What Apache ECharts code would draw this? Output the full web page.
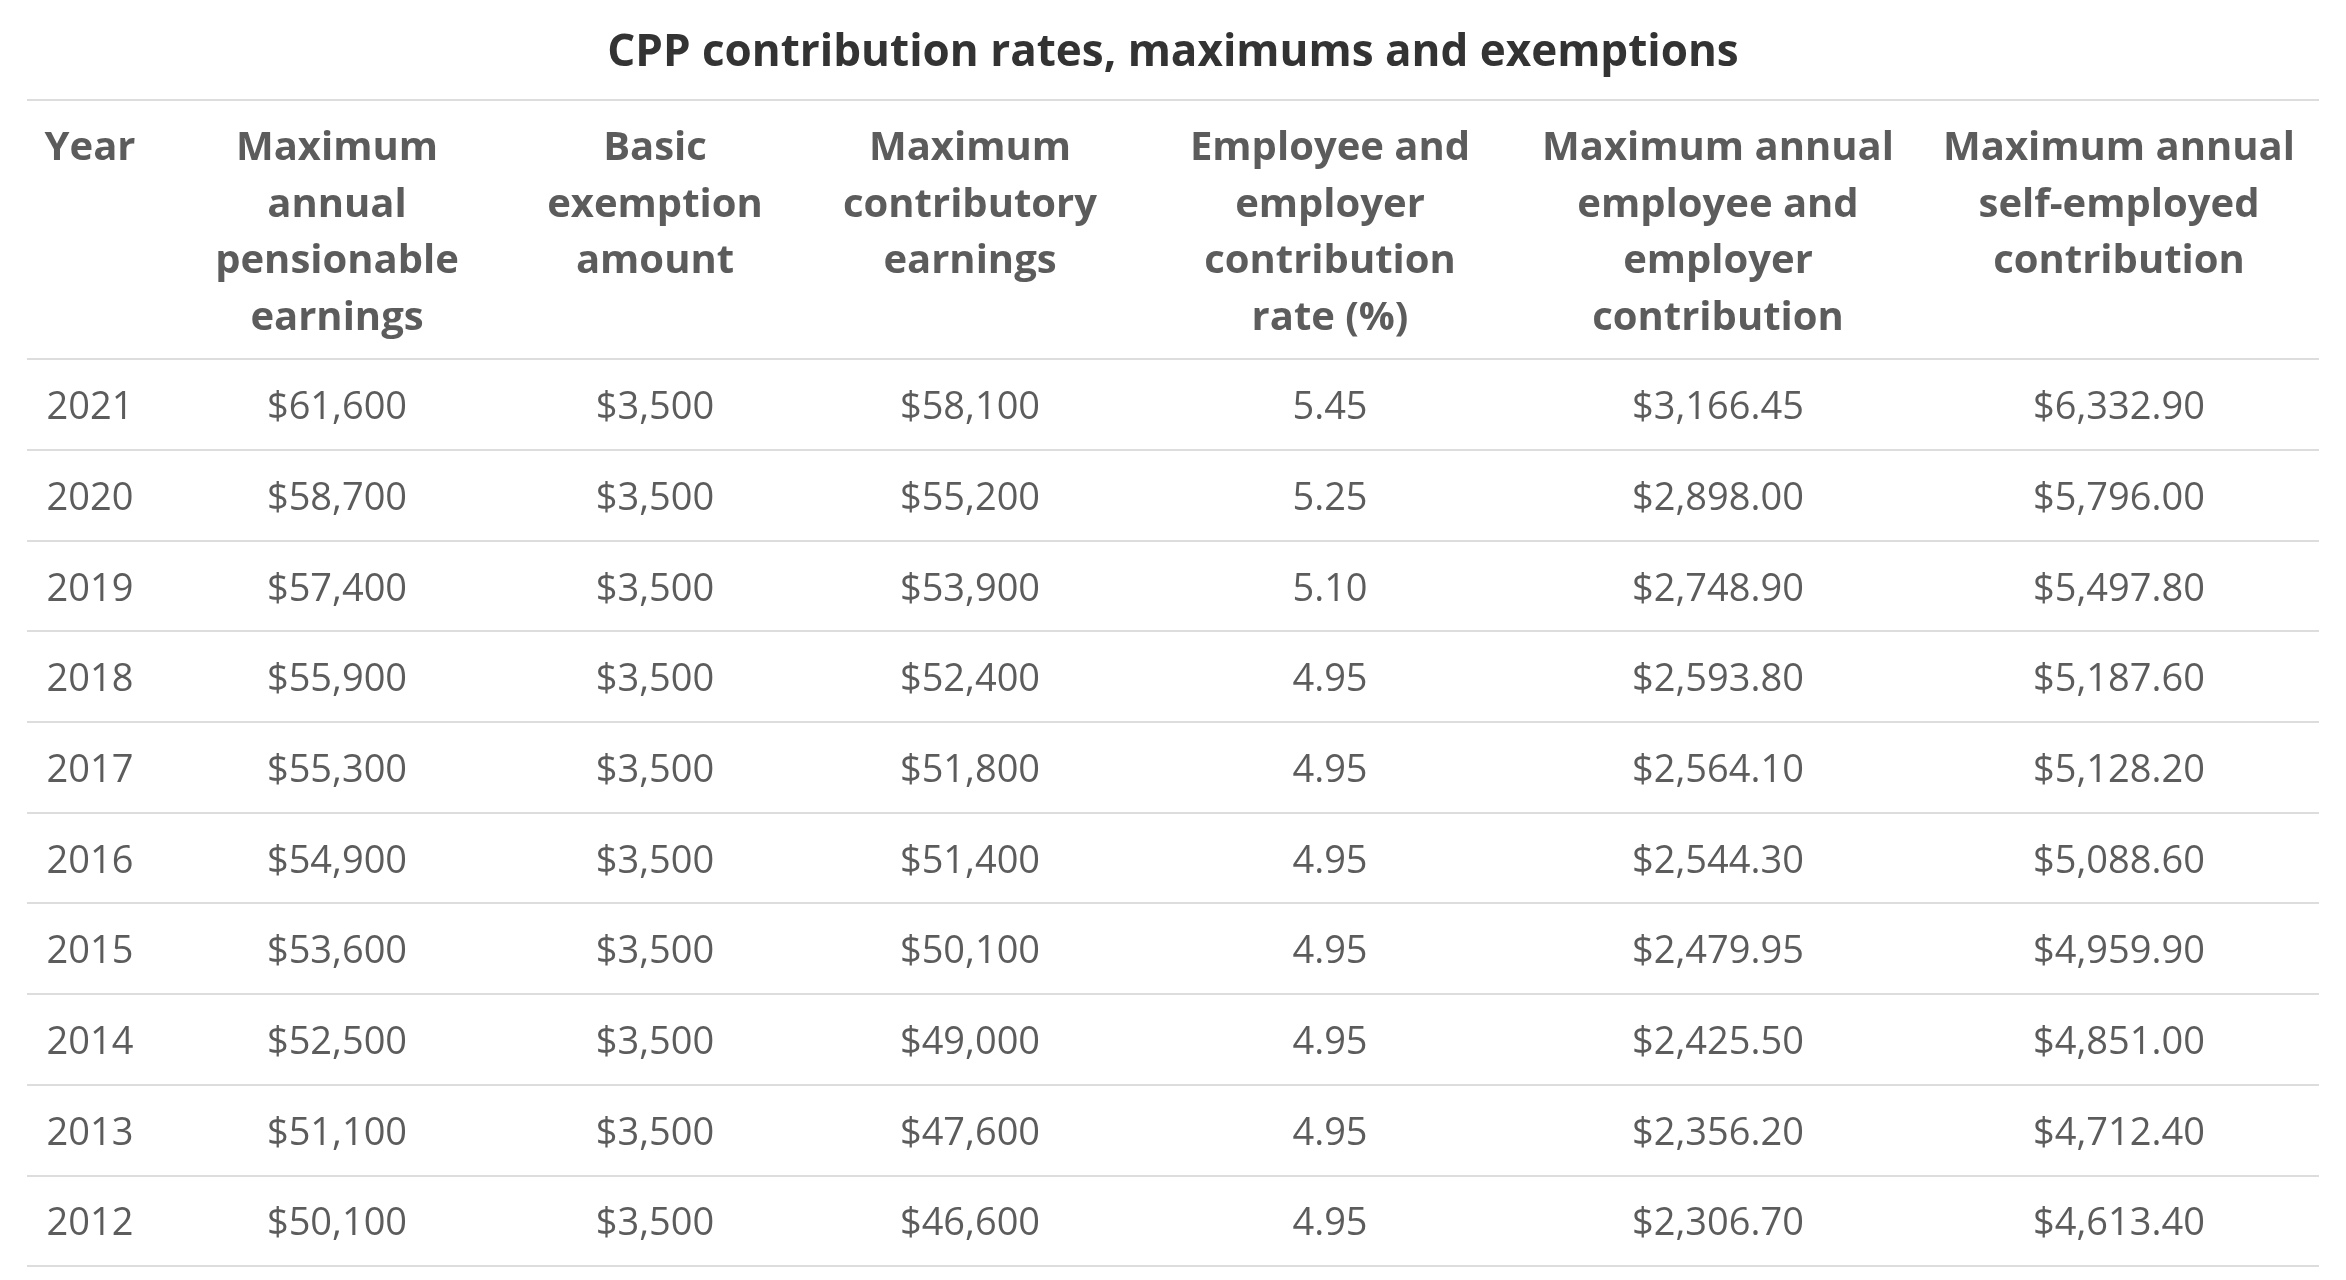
<!DOCTYPE html>
<html>
<head>
<meta charset="utf-8">
<script src="https://cdn.jsdelivr.net/npm/echarts@6/dist/echarts.min.js"></script>
<style>
html,body{margin:0;padding:0;background:#fff;}
#chart{width:2346px;height:1280px;}
</style>
</head>
<body>
<div id="chart"></div>
<script>
// ---- data ----
const titleText = 'CPP contribution rates, maximums and exemptions';
const headers = [
  'Year',
  'Maximum\nannual\npensionable\nearnings',
  'Basic\nexemption\namount',
  'Maximum\ncontributory\nearnings',
  'Employee and\nemployer\ncontribution\nrate (%)',
  'Maximum annual\nemployee and\nemployer\ncontribution',
  'Maximum annual\nself-employed\ncontribution'
];
const years = ['2021','2020','2019','2018','2017','2016','2015','2014','2013','2012'];
const maxPensionable = [61600, 58700, 57400, 55900, 55300, 54900, 53600, 52500, 51100, 50100];
const basicExemption = [3500, 3500, 3500, 3500, 3500, 3500, 3500, 3500, 3500, 3500];
const maxContributory = [58100, 55200, 53900, 52400, 51800, 51400, 50100, 49000, 47600, 46600];
const contribRate = [5.45, 5.25, 5.10, 4.95, 4.95, 4.95, 4.95, 4.95, 4.95, 4.95];
const maxEmpContribution = [3166.45, 2898.00, 2748.90, 2593.80, 2564.10, 2544.30, 2479.95, 2425.50, 2356.20, 2306.70];
const maxSelfContribution = [6332.90, 5796.00, 5497.80, 5187.60, 5128.20, 5088.60, 4959.90, 4851.00, 4712.40, 4613.40];

// ---- layout (not data) ----
const colX = [90, 337, 655, 970, 1330, 1718, 2119];
const FONT = '"Open Sans", "Noto Sans", sans-serif';
const TEXT = '#333333';
const LINE = '#dddddd';

function fmt(n, dec, dollar) {
  const s = n.toFixed(dec);
  const parts = s.split('.');
  parts[0] = parts[0].replace(/\B(?=(\d{3})+(?!\d))/g, ',');
  return (dollar ? '$' : '') + parts.join('.');
}

const columns = [
  {vals: years, f: v => v},
  {vals: maxPensionable, f: v => fmt(v, 0, true)},
  {vals: basicExemption, f: v => fmt(v, 0, true)},
  {vals: maxContributory, f: v => fmt(v, 0, true)},
  {vals: contribRate, f: v => v.toFixed(2)},
  {vals: maxEmpContribution, f: v => fmt(v, 2, true)},
  {vals: maxSelfContribution, f: v => fmt(v, 2, true)}
];

const series = [];
// header cells
series.push({
  type: 'scatter', xAxisIndex: 0, yAxisIndex: 0,
  symbolSize: 0, itemStyle: {color: 'transparent'},
  silent: true,
  data: headers.map((h, i) => ({value: [colX[i], 'header'], name: h})),
  label: {
    show: true, position: 'inside', verticalAlign: 'top', align: 'center',
    offset: [0, -109],
    formatter: p => p.name,
    fontFamily: FONT, fontWeight: 'bold', fontSize: 40, lineHeight: 56.5, color: TEXT
  }
});
// body cells
columns.forEach((col, c) => {
  series.push({
    type: 'scatter', xAxisIndex: 1, yAxisIndex: 1,
    symbolSize: 0, itemStyle: {color: 'transparent'},
    silent: true,
    data: col.vals.map((v, r) => ({value: [colX[c], years[r]], name: col.f(v)})),
    label: {
      show: true, position: 'inside', align: 'center', verticalAlign: 'middle',
      offset: [0, 4],
      formatter: p => p.name,
      fontFamily: FONT, fontSize: 38, color: TEXT
    }
  });
});

const chart = echarts.init(document.getElementById('chart'), null, {renderer: 'canvas'});
chart.setOption({
  backgroundColor: '#ffffff',
  animation: false,
  title: {
    text: titleText, left: 'center', top: 26,
    textStyle: {fontFamily: FONT, fontWeight: 'bold', fontSize: 44, color: TEXT}
  },
  grid: [
    {left: 27, right: 27, top: 100, height: 259},
    {left: 27, right: 27, top: 359, bottom: 14}
  ],
  xAxis: [
    {type: 'value', gridIndex: 0, min: 27, max: 2319, show: false},
    {type: 'value', gridIndex: 1, min: 27, max: 2319, show: false}
  ],
  yAxis: [
    {type: 'category', gridIndex: 0, data: ['header'], inverse: true,
     axisLine: {show: false}, axisTick: {show: false}, axisLabel: {show: false},
     splitLine: {show: true, lineStyle: {color: LINE, width: 2}}},
    {type: 'category', gridIndex: 1, data: years, inverse: true,
     axisLine: {show: false}, axisTick: {show: false}, axisLabel: {show: false},
     splitLine: {show: true, lineStyle: {color: LINE, width: 2}}}
  ],
  series: series
});
</script>
</body>
</html>
